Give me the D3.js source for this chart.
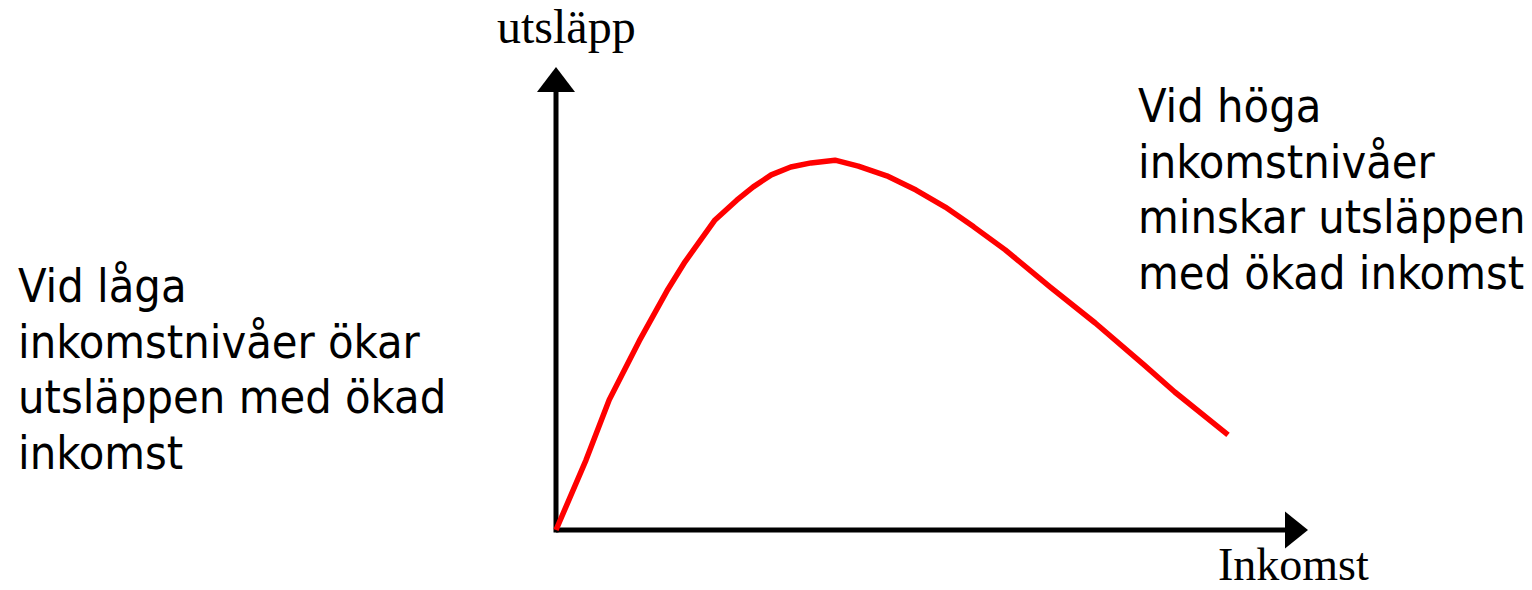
<!DOCTYPE html>
<html>
<head>
<meta charset="utf-8">
<script src="https://cdn.jsdelivr.net/npm/d3@7"></script>
<style>
  html, body { margin: 0; padding: 0; background: #fff; }
  svg { display: block; }
</style>
</head>
<body>
<svg id="chart"></svg>
<script>
// income (x) vs emissions (y), arbitrary units 0-100
const income    = [0, 4.0, 7.1, 11.1, 14.8, 17.2, 21.2, 24.1, 26.3, 28.7, 31.3, 34.0, 37.2, 40.3, 44.1, 48.0, 51.9, 55.7, 59.9, 65.9, 71.9, 78.4, 82.5, 89.6];
const emissions = [0, 15.2, 28.3, 41.1, 52.0, 58.3, 67.4, 71.7, 74.6, 77.2, 78.9, 79.8, 80.4, 79.1, 77.0, 73.9, 70.2, 65.9, 60.9, 52.8, 45.0, 35.9, 30.0, 20.7];

const xLabel = "Inkomst";
const yLabel = "utsläpp";
const leftNote  = ["Vid låga", "inkomstnivåer ökar", "utsläppen med ökad", "inkomst"];
const rightNote = ["Vid höga", "inkomstnivåer", "minskar utsläppen", "med ökad inkomst"];

const W = 1532, H = 590;
const svg = d3.select("#chart").attr("width", W).attr("height", H);

const x = d3.scaleLinear().domain([0, 100]).range([556, 1306]);
const y = d3.scaleLinear().domain([0, 100]).range([530, 70]);

const axisW = 5;
// axis lines
svg.append("line").attr("x1", x(0)).attr("x2", 1286).attr("y1", y(0)).attr("y2", y(0))
  .attr("stroke", "#000").attr("stroke-width", axisW);
svg.append("line").attr("x1", x(0)).attr("x2", x(0)).attr("y1", y(0) + axisW / 2).attr("y2", 91)
  .attr("stroke", "#000").attr("stroke-width", axisW);

// arrowheads
svg.append("path").attr("d", `M1308,${y(0)} L1285,${y(0) - 18.5} L1285,${y(0) + 18.5} Z`).attr("fill", "#000");
svg.append("path").attr("d", `M${x(0)},67 L${x(0) - 19},92 L${x(0) + 19},92 Z`).attr("fill", "#000");

// curve
const pts = income.map((v, i) => [v, emissions[i]]);
svg.append("path")
  .datum(pts)
  .attr("fill", "none")
  .attr("stroke", "#ff0000")
  .attr("stroke-width", 5.5)
  .attr("stroke-linejoin", "round")
  .attr("d", d3.line().x(d => x(d[0])).y(d => y(d[1])).curve(d3.curveLinear));

// axis labels (serif)
const serif = "'Liberation Serif', 'Times New Roman', serif";
svg.append("text").attr("x", 497).attr("y", 43)
  .style("font-family", serif).style("font-size", "48px")
  .text(yLabel);
svg.append("text").attr("x", 1218).attr("y", 580)
  .style("font-family", serif).style("font-size", "46px")
  .text(xLabel);

// notes (sans)
const noteFont = "'DejaVu Sans Condensed', 'DejaVu Sans', sans-serif";
function note(lines, x0, y0) {
  svg.append("g").selectAll("text").data(lines).join("text")
    .attr("x", x0).attr("y", (d, i) => y0 + i * 55.5)
    .style("font-family", noteFont).style("font-stretch", "condensed").style("font-size", "46.5px")
    .attr("fill", "#000")
    .text(d => d);
}
note(leftNote, 18, 302);
note(rightNote, 1138, 122);
</script>
</body>
</html>
